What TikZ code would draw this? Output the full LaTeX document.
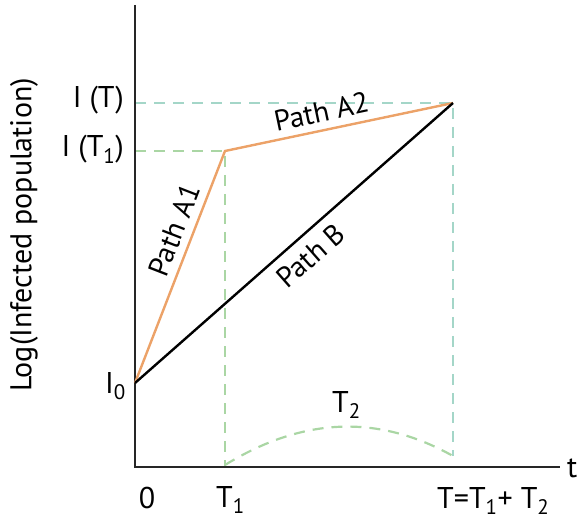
\documentclass[tikz,border=0pt]{standalone}
\usepackage{fontspec}
\setmainfont{PT Sans}
\definecolor{pfadorange}{RGB}{236,162,104}
\definecolor{hilfgruen}{RGB}{170,214,164}
\definecolor{hilftuerkis}{RGB}{164,214,200}
\begin{document}
\begin{tikzpicture}[x=1pt,y=-1pt,
        achse/.style={line width=2.8pt, black!85},
        pfad/.style={line width=2.4pt},
        hilfe/.style={line width=2.2pt, dash pattern=on 11pt off 8pt},
        beschr/.style={font=\fontsize{30}{32}\selectfont, inner sep=0pt},
        pfadbeschr/.style={font=\fontsize{29}{31}\selectfont, inner sep=7pt, sloped}]
    \useasboundingbox (0,0) rectangle (581,521);
    % Punkte:
    \coordinate (O) at (135,467);
    \coordinate (ytop) at (135,5);
    \coordinate (xend) at (560,467);
    \coordinate (I0) at (135,383);
    \coordinate (knick) at (225,151);
    \coordinate (ende) at (453,103);
    \coordinate (IT1) at (135,151);
    \coordinate (IT) at (135,103);
    \coordinate (T1fuss) at (225,467);
    \coordinate (Tfuss) at (453,456);
    \coordinate (bogenA) at (225,465);
    % Hilfslinien:
    \draw[hilfe, hilftuerkis] (IT) -- (ende) -- (Tfuss);
    \draw[hilfe, hilfgruen] (IT1) -- (knick) -- (T1fuss);
    \draw[hilfe, hilfgruen] (bogenA) .. controls (303,417) and (378,414) .. (Tfuss);
    % Achsen:
    \draw[achse] (ytop) -- (O) -- (xend);
    % Pfade:
    \draw[pfad, pfadorange] (I0) -- (knick)
        node[pfadbeschr, pos=0.63, above, black] (A1) {Path A1}
        -- (ende)
        node[pfadbeschr, pos=0.44, above, black] (A2) {Path A2};
    \draw[pfad, black] (I0) -- (ende)
        node[pfadbeschr, pos=0.51, below, inner sep=9pt] (B) {Path B};
    % Beschriftung:
    \node[beschr, anchor=base east] (lIT) at (124,108) {I (T)};
    \node[beschr, anchor=base east] (lIT1) at (124,157) {I (T\textsubscript{1})};
    \node[beschr, anchor=base east] (lI0) at (126,393) {I\textsubscript{0}};
    \node[beschr, anchor=base] (l0) at (147,508) {0};
    \node[beschr, anchor=base west] (lT1) at (216,507) {T\textsubscript{1}};
    \node[beschr, anchor=base west] (lT) at (437,508) {T=T\textsubscript{1}+ T\textsubscript{2}};
    \node[beschr, anchor=base west] (lT2) at (332,412) {T\textsubscript{2}};
    \node[beschr, anchor=base west] (lt) at (567,477) {t};
    \node[beschr, rotate=90] (ylabel) at (24,235) {Log(Infected population)};
\end{tikzpicture}
\end{document}
